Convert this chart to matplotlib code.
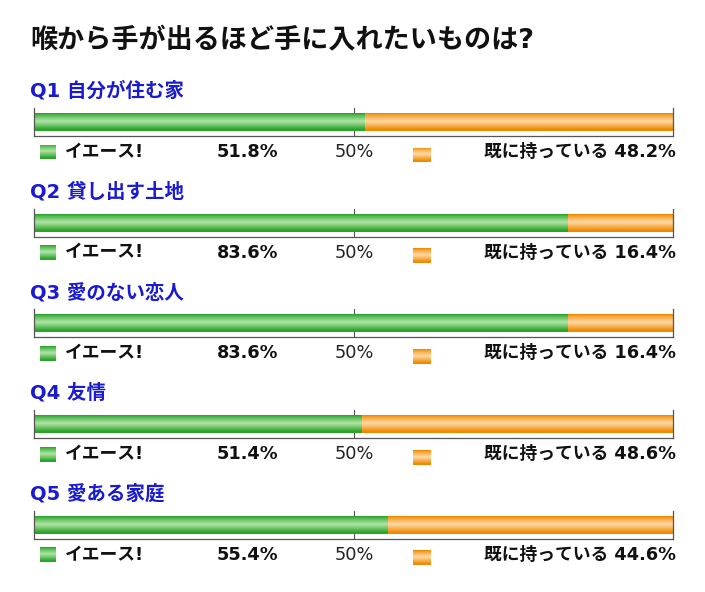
import numpy as np
import matplotlib
matplotlib.use("Agg")
import matplotlib.pyplot as plt

title = "喉から手が出るほど手に入れたいものは?"
questions = ["Q1 自分が住む家", "Q2 貸し出す土地", "Q3 愛のない恋人", "Q4 友情", "Q5 愛ある家庭"]
yes_vals = [51.8, 83.6, 83.6, 51.4, 55.4]
have_vals = [48.2, 16.4, 16.4, 48.6, 44.6]
yes_label = "イエース!"
have_label = "既に持っている"
mid_label = "50%"

W, H = 705, 592
fig = plt.figure(figsize=(W / 100, H / 100), dpi=100)
fam = ['DejaVu Sans', 'Noto Sans CJK JP']

def fx(x): return x / W
def fy(y): return 1 - y / H

def grad(dark, light):
    d = np.array(matplotlib.colors.to_rgb(dark))
    l = np.array(matplotlib.colors.to_rgb(light))
    t = np.linspace(0, 1, 64)
    prof = np.clip(1 - np.abs(t - 0.45) / 0.45, 0, 1) ** 0.9
    prof[:4] = 0
    prof[-4:] = 0
    cols = d[None, :] * (1 - prof[:, None]) + l[None, :] * prof[:, None]
    return cols[:, None, :]

g_img = grad('#2aa52a', '#b0e4a6')
o_img = grad('#f08a00', '#ffd9a6')

fig.text(fx(30), fy(40), title, family=fam, fontsize=19.5, fontweight='bold',
         color='#111111', va='center', ha='left')

step = 100.7
for i, q in enumerate(questions):
    off = i * step
    fig.text(fx(30), fy(91 + off), q, family=fam, fontsize=14, fontweight='bold',
             color='#1a1ad0', va='center', ha='left')
    top, bot = 108 + off, 136 + off
    ax = fig.add_axes([fx(34), fy(bot), fx(673) - fx(34), (bot - top) / H])
    ax.set_xlim(0, 100)
    ax.set_ylim(0, 1)
    b0, b1 = (bot - 131 - off) / 28, (bot - 113.5 - off) / 28
    ax.imshow(g_img, extent=(0, yes_vals[i], b0, b1), aspect='auto', interpolation='bilinear', zorder=1)
    ax.imshow(o_img, extent=(yes_vals[i], yes_vals[i] + have_vals[i], b0, b1), aspect='auto', interpolation='bilinear', zorder=1)
    ax.axvline(50, color='#555555', lw=0.8, zorder=0)
    ax.spines['top'].set_visible(False)
    for s in ['left', 'right', 'bottom']:
        ax.spines[s].set_color('#555555')
        ax.spines[s].set_linewidth(0.9)
    ax.set_xticks([])
    ax.set_yticks([])
    ax.patch.set_alpha(0)

    ly = 152 + off
    sq = fig.add_axes([fx(40), fy(ly + 7.5), 16 / W, 15 / H])
    sq.imshow(g_img, aspect='auto', interpolation='bilinear')
    sq.axis('off')
    sq2 = fig.add_axes([fx(413), fy(ly + 10.5), 18 / W, 15 / H])
    sq2.imshow(o_img, aspect='auto', interpolation='bilinear')
    sq2.axis('off')

    fig.text(fx(65), fy(ly), yes_label, family=fam, fontsize=12.8, fontweight='bold',
             color='#111111', va='center', ha='left')
    fig.text(fx(278), fy(ly), f"{yes_vals[i]:.1f}%", family=fam, fontsize=12.8, fontweight='bold',
             color='#111111', va='center', ha='right')
    fig.text(fx(354), fy(ly), mid_label, family=fam, fontsize=12.8,
             color='#222222', va='center', ha='center')
    fig.text(fx(676), fy(ly), f"{have_label} {have_vals[i]:.1f}%", family=fam, fontsize=12.8,
             fontweight='bold', color='#111111', va='center', ha='right')

fig.savefig("out.png", dpi=100, facecolor='white')
